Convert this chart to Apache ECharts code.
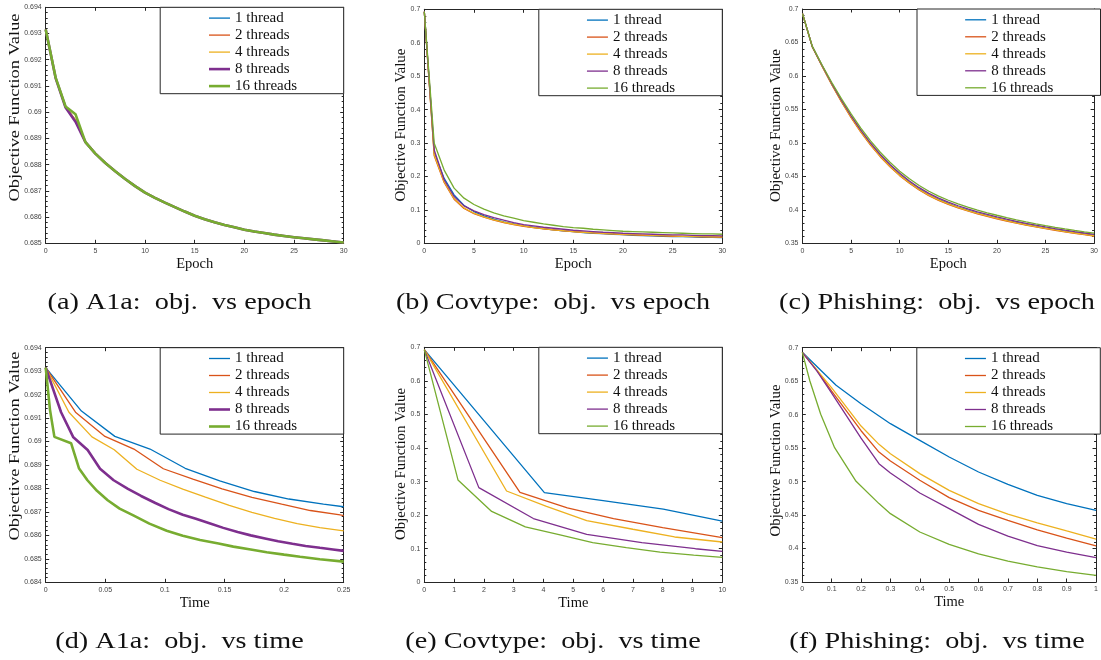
<!DOCTYPE html>
<html><head><meta charset="utf-8">
<script src="https://cdn.jsdelivr.net/npm/echarts@6/dist/echarts.min.js"></script>
<style>html,body{margin:0;padding:0;background:#fff}#c{width:1101px;height:660px}</style>
</head><body><div id="c"></div><script>
// ---------- labels ----------
const threadNames = ['1 thread', '2 threads', '4 threads', '8 threads', '16 threads'];
const threadColors = ['#0072BD', '#D95319', '#EDB120', '#7E2F8E', '#77AC30'];
const yAxisTitle = 'Objective Function Value';
const captions = [
  '(a) A1a:  obj.  vs epoch', '(b) Covtype:  obj.  vs epoch', '(c) Phishing:  obj.  vs epoch',
  '(d) A1a:  obj.  vs time', '(e) Covtype:  obj.  vs time', '(f) Phishing:  obj.  vs time'
];
const epochs = [0,1,2,3,4,5,6,7,8,9,10,11,12,13,14,15,16,17,18,19,20,21,22,23,24,25,26,27,28,29,30];

// ---------- (a) A1a: objective vs epoch ----------
const a1aEpoch1  = [.69315,.69130,.69020,.68970,.68886,.68842,.68806,.68775,.68745,.68718,.68693,.68673,.68655,.68638,.68621,.68605,.68592,.68580,.68570,.68561,.68552,.68545,.68539,.68533,.68528,.68523,.68519,.68515,.68511,.68507,.68503];
const a1aEpoch2  = [.69315,.69130,.69020,.68968,.68886,.68842,.68806,.68775,.68745,.68718,.68693,.68673,.68655,.68638,.68621,.68605,.68592,.68580,.68570,.68561,.68552,.68545,.68539,.68533,.68528,.68523,.68519,.68515,.68511,.68507,.68503];
const a1aEpoch4  = [.69315,.69130,.69020,.68972,.68886,.68842,.68806,.68775,.68745,.68718,.68693,.68673,.68655,.68638,.68621,.68605,.68592,.68580,.68570,.68561,.68552,.68545,.68539,.68533,.68528,.68523,.68519,.68515,.68511,.68507,.68503];
const a1aEpoch8  = [.69315,.69130,.69018,.68964,.68886,.68842,.68806,.68775,.68745,.68718,.68693,.68673,.68655,.68638,.68621,.68605,.68592,.68580,.68570,.68561,.68552,.68545,.68539,.68533,.68528,.68523,.68519,.68515,.68511,.68507,.68503];
const a1aEpoch16 = [.69315,.69132,.69022,.68992,.68886,.68842,.68806,.68775,.68745,.68718,.68693,.68673,.68655,.68638,.68621,.68605,.68592,.68580,.68570,.68561,.68552,.68545,.68539,.68533,.68528,.68523,.68519,.68515,.68511,.68507,.68503];

// ---------- (b) Covtype: objective vs epoch ----------
const covEpoch1  = [.693,.270,.194,.145,.113,.095,.082,.072,.064,.058,.052,.048,.044,.040,.037,.035,.032,.030,.029,.027,.026,.024,.023,.022,.021,.020,.020,.019,.018,.018,.017];
const covEpoch2  = [.693,.262,.182,.132,.104,.089,.078,.069,.062,.056,.051,.047,.043,.040,.037,.035,.033,.031,.029,.028,.026,.025,.024,.023,.022,.021,.021,.020,.019,.019,.018];
const covEpoch4  = [.693,.265,.184,.134,.106,.090,.079,.070,.063,.057,.052,.047,.044,.040,.038,.035,.033,.031,.030,.028,.027,.026,.025,.024,.023,.022,.021,.021,.020,.019,.019];
const covEpoch8  = [.693,.279,.190,.140,.112,.097,.086,.077,.069,.062,.056,.052,.048,.045,.042,.039,.037,.035,.033,.032,.030,.029,.028,.027,.026,.025,.025,.024,.023,.023,.022];
const covEpoch16 = [.693,.299,.219,.165,.135,.116,.102,.091,.082,.075,.068,.063,.058,.054,.050,.047,.045,.042,.040,.038,.036,.035,.034,.033,.032,.031,.030,.029,.028,.028,.027];

// ---------- (c) Phishing: objective vs epoch ----------
const phiEpoch1  = [.6931,.6440,.6155,.5880,.5625,.5390,.5175,.4980,.4808,.4657,.4525,.4410,.4310,.4225,.4155,.4095,.4042,.3995,.3952,.3913,.3877,.3843,.3811,.3781,.3753,.3727,.3703,.3680,.3658,.3637,.3617];
const phiEpoch2  = [.6931,.6438,.6150,.5872,.5615,.5378,.5162,.4966,.4794,.4643,.4511,.4397,.4297,.4212,.4142,.4082,.4030,.3983,.3941,.3902,.3866,.3833,.3801,.3772,.3744,.3718,.3694,.3671,.3650,.3629,.3609];
const phiEpoch4  = [.6931,.6439,.6152,.5876,.5620,.5384,.5168,.4973,.4801,.4650,.4518,.4404,.4304,.4219,.4149,.4089,.4036,.3989,.3947,.3908,.3872,.3838,.3806,.3777,.3749,.3723,.3699,.3676,.3654,.3633,.3613];
const phiEpoch8  = [.6931,.6442,.6160,.5890,.5638,.5405,.5192,.4998,.4827,.4677,.4545,.4431,.4331,.4246,.4175,.4114,.4061,.4013,.3970,.3931,.3895,.3861,.3829,.3799,.3771,.3745,.3720,.3697,.3675,.3654,.3634];
const phiEpoch16 = [.6931,.6445,.6168,.5905,.5660,.5432,.5222,.5030,.4860,.4710,.4578,.4463,.4363,.4277,.4205,.4143,.4089,.4040,.3996,.3956,.3919,.3884,.3851,.3820,.3791,.3764,.3739,.3715,.3693,.3672,.3653];

// ---------- (d) A1a: objective vs time  [time, value] ----------
const a1aTime1 = [[0,.69315],[.030,.69130],[.058,.69022],[.0875,.68968],[.117,.68886],[.146,.68832],[.175,.68787],[.204,.68755],[.233,.68733],[.25,.68722]];
const a1aTime2 = [[0,.69315],[.025,.69125],[.0497,.69022],[.074,.68968],[.0987,.68884],[.1235,.68840],[.148,.68798],[.173,.68762],[.198,.68733],[.222,.68706],[.247,.68687],[.25,.68684]];
const a1aTime4 = [[0,.69315],[.0195,.69125],[.0388,.69020],[.0575,.68965],[.0765,.68882],[.096,.68835],[.115,.68797],[.134,.68763],[.154,.68728],[.173,.68698],[.192,.68672],[.211,.68650],[.230,.68633],[.25,.68619]];
const a1aTime8 = [[0,.69315],[.0129,.69125],[.0232,.69018],[.0352,.68964],[.0456,.68884],[.057,.68835],[.069,.68798],[.080,.68768],[.092,.68738],[.103,.68712],[.115,.68688],[.126,.68671],[.138,.68651],[.149,.68632],[.161,.68614],[.172,.68600],[.184,.68587],[.195,.68575],[.207,.68564],[.218,.68555],[.230,.68547],[.241,.68540],[.25,.68534]];
const a1aTime16 = [[0,.69315],[.0036,.69135],[.0073,.69020],[.0213,.68993],[.028,.68885],[.035,.68835],[.043,.68790],[.052,.68750],[.062,.68714],[.0735,.68685],[.087,.68650],[.1015,.68620],[.115,.68598],[.1295,.68580],[.145,.68565],[.1574,.68552],[.172,.68540],[.1854,.68528],[.2,.68518],[.2134,.68509],[.23,.68498],[.25,.68488]];

// ---------- (e) Covtype: objective vs time ----------
const covTime1 = [[0,.693],[4.03,.267],[6.0,.243],[8.02,.218],[10,.182]];
const covTime2 = [[0,.693],[3.21,.268],[4.8,.222],[6.35,.190],[8.0,.163],[10,.133]];
const covTime4 = [[0,.693],[2.76,.272],[4.1,.226],[5.45,.184],[7.0,.158],[8.4,.135],[10,.120]];
const covTime8 = [[0,.693],[1.83,.282],[3.66,.190],[5.45,.143],[7.3,.118],[9.1,.100],[10,.092]];
const covTime16 = [[0,.693],[1.13,.305],[2.26,.211],[3.39,.165],[4.52,.142],[5.65,.118],[6.78,.103],[7.91,.090],[9.04,.081],[10,.074]];

// ---------- (f) Phishing: objective vs time ----------
const phiTime1 = [[0,.6931],[.115,.6438],[.2,.6164],[.3,.5865],[.4,.5616],[.5,.5367],[.6,.5143],[.7,.4959],[.8,.4795],[.9,.4671],[1,.4571]];
const phiTime2 = [[0,.6931],[.05,.6660],[.1,.6350],[.2,.5760],[.261,.5441],[.3,.5307],[.4,.5019],[.5,.4760],[.6,.4571],[.7,.4420],[.8,.4280],[.9,.4155],[1,.4040]];
const phiTime4 = [[0,.6931],[.05,.6665],[.1,.6400],[.2,.5830],[.261,.5556],[.3,.5417],[.4,.5119],[.5,.4869],[.6,.4671],[.7,.4515],[.8,.4385],[.9,.4262],[1,.4142]];
const phiTime8 = [[0,.6931],[.05,.6650],[.1,.6320],[.2,.5650],[.261,.5268],[.3,.5128],[.4,.4829],[.5,.4596],[.6,.4360],[.7,.4185],[.8,.4045],[.9,.3945],[1,.3864]];
const phiTime16 = [[0,.6931],[.0258,.6502],[.0627,.6005],[.110,.5507],[.183,.5004],[.261,.4671],[.3,.4521],[.4,.4247],[.5,.4063],[.6,.3920],[.7,.3812],[.8,.3725],[.9,.3655],[1,.3600]];

// ---------- assemble ----------
const pairUp = (xs, ys) => xs.map((x, i) => [x, ys[i]]);
const thin = 1.3, thick = 2.6;
const panels = [
  { box: [45.7, 7.3, 298, 236], x: [0, 30, 5], xName: 'Epoch', y: [0.685, 0.694, 0.001],
    series: [a1aEpoch1, a1aEpoch2, a1aEpoch4, a1aEpoch8, a1aEpoch16].map(v => pairUp(epochs, v)),
    widths: [thin, thin, thin, thick, thick], cap: [179.5, 302.5], yt: [15, 107.5, 188] },
  { box: [424.3, 9.3, 298, 234], x: [0, 30, 5], xName: 'Epoch', y: [0, 0.7, 0.1],
    series: [covEpoch1, covEpoch2, covEpoch4, covEpoch8, covEpoch16].map(v => pairUp(epochs, v)),
    widths: [thin, thin, thin, thin, thin], cap: [553, 302.5], yt: [401, 125, 153] },
  { box: [802.5, 9, 298, 234.3], x: [0, 30, 5], xName: 'Epoch', y: [0.35, 0.7, 0.05],
    series: [phiEpoch1, phiEpoch2, phiEpoch4, phiEpoch8, phiEpoch16].map(v => pairUp(epochs, v)),
    widths: [thin, thin, thin, thin, thin], cap: [937, 302.5], yt: [776, 125.5, 153] },
  { box: [45.7, 347.7, 298, 234.6], x: [0, 0.25, 0.05], xName: 'Time', y: [0.684, 0.694, 0.001],
    series: [a1aTime1, a1aTime2, a1aTime4, a1aTime8, a1aTime16],
    widths: [thin, thin, thin, thick, thick], cap: [179.5, 641.5], yt: [15, 446, 189] },
  { box: [424.3, 347.3, 298, 235], x: [0, 10, 1], xName: 'Time', y: [0, 0.7, 0.1],
    series: [covTime1, covTime2, covTime4, covTime8, covTime16],
    widths: [thin, thin, thin, thin, thin], cap: [553, 641.5], yt: [401, 464, 152] },
  { box: [802.3, 347.7, 298, 234.3], x: [0, 1, 0.1], xName: 'Time', y: [0.35, 0.7, 0.05],
    series: [phiTime1, phiTime2, phiTime4, phiTime8, phiTime16],
    widths: [thin, thin, thin, thin, thin], cap: [937, 641.5], yt: [776, 460.5, 152] }
];

const AX = '#262626';
const serif = '"Liberation Serif", "Times New Roman", serif';
const grid = [], xAxis = [], yAxis = [], series = [], legend = [], graphic = [];

// text measuring, used to stretch the wide LaTeX-style captions / y titles
const ctx = document.createElement('canvas').getContext('2d');
ctx.font = '24px "Liberation Serif"';
const capScale = 264 / ctx.measureText(captions[0]).width;
ctx.font = '14px "Liberation Serif"';
const yTitleW = ctx.measureText(yAxisTitle).width;

panels.forEach((p, k) => {
  const [L, T, W, H] = p.box;
  grid.push({ left: L, top: T, width: W, height: H, containLabel: false });
  const common = { gridIndex: k, type: 'value', axisLine: { show: true, onZero: false, lineStyle: { color: AX, width: 1 } },
                   splitLine: { show: false } };
  xAxis.push(Object.assign({}, common, {
    position: 'bottom', min: p.x[0], max: p.x[1], interval: p.x[2],
    axisTick: { show: true, inside: true, length: 3.5, lineStyle: { color: AX } },
    axisLabel: { fontSize: 7, color: '#444', margin: 4, fontFamily: '"Liberation Sans", Arial, sans-serif' },
    name: p.xName, nameLocation: 'middle', nameGap: 13,
    nameTextStyle: { fontFamily: serif, fontSize: 14.5, color: '#111', verticalAlign: 'top' }
  }));
  xAxis.push(Object.assign({}, common, {
    position: 'top', min: p.x[0], max: p.x[1], interval: p.x[2],
    axisTick: { show: true, inside: true, length: 3.5, lineStyle: { color: AX } },
    axisLabel: { show: false }
  }));
  yAxis.push(Object.assign({}, common, {
    position: 'left', min: p.y[0], max: p.y[1], interval: p.y[2],
    axisTick: { show: true, inside: true, length: 3.5, lineStyle: { color: AX } },
    minorTick: { show: true, splitNumber: 5, length: 2, lineStyle: { color: AX } },
    axisLabel: { fontSize: 7, color: '#444', margin: 4, fontFamily: '"Liberation Sans", Arial, sans-serif' }
  }));
  yAxis.push(Object.assign({}, common, {
    position: 'right', min: p.y[0], max: p.y[1], interval: p.y[2],
    axisTick: { show: true, inside: true, length: 3.5, lineStyle: { color: AX } },
    minorTick: { show: true, splitNumber: 5, length: 2, lineStyle: { color: AX } },
    axisLabel: { show: false }
  }));
  p.series.forEach((d, i) => {
    series.push({
      type: 'line', name: threadNames[i], xAxisIndex: 2 * k, yAxisIndex: 2 * k,
      data: d, symbol: 'none', showSymbol: false, smooth: false, clip: true,
      color: threadColors[i], lineStyle: { color: threadColors[i], width: p.widths[i] },
      z: 2 + i * 0.01, silent: true, animation: false
    });
  });
  // legend box (in the top-right corner of the axes)
  const bw = 183.5, bh = 86.4;
  const bx = L + W - bw, by = T;
  graphic.push({ type: 'rect', shape: { x: bx, y: by, width: bw, height: bh },
    style: { fill: '#fff', stroke: AX, lineWidth: 1 }, z: 3, silent: true });
  legend.push({
    orient: 'vertical', left: bx + 47.5, top: by + 3.3, padding: 0,
    itemWidth: 21, itemHeight: 14, itemGap: 2,
    data: threadNames.map((n, i) => ({ name: n, lineStyle: { width: p.widths[i] }, itemStyle: { opacity: 0 } })),
    textStyle: { fontFamily: serif, fontSize: 15, color: '#111', lineHeight: 14, height: 14 },
    selectedMode: false, z: 6
  });
  // y-axis title
  graphic.push({ type: 'text', x: p.yt[0], y: p.yt[1], rotation: Math.PI / 2, scaleX: p.yt[2] / yTitleW,
    style: { text: yAxisTitle, font: '14px "Liberation Serif"', fill: '#111', align: 'center', verticalAlign: 'middle' },
    silent: true, z: 6 });
  // caption
  graphic.push({ type: 'text', x: p.cap[0], y: p.cap[1], scaleX: capScale,
    style: { text: captions[k], font: '24px "Liberation Serif"', fill: '#111', align: 'center', verticalAlign: 'middle' },
    silent: true, z: 6 });
});

const chart = echarts.init(document.getElementById('c'), null, { renderer: 'canvas' });
chart.setOption({
  backgroundColor: '#fff', animation: false,
  grid, xAxis, yAxis, series, legend, graphic
});
</script></body></html>
